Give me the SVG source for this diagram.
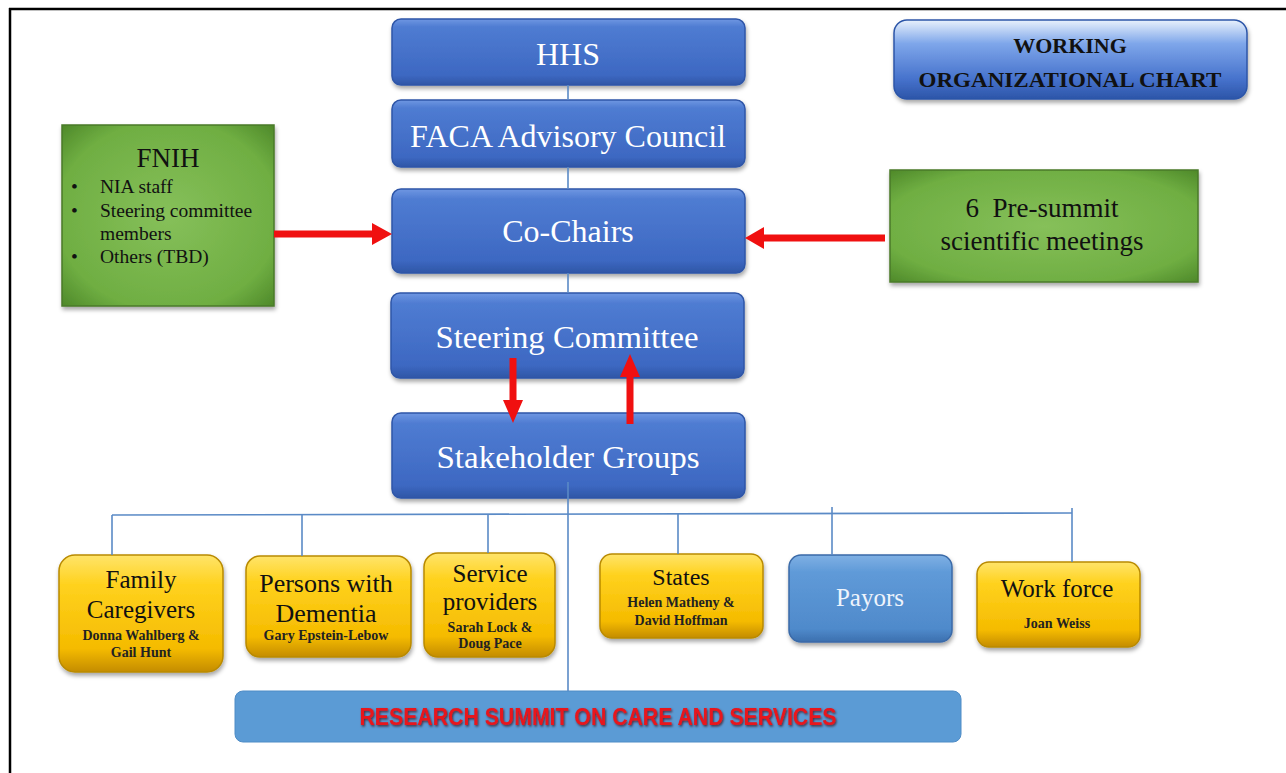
<svg xmlns="http://www.w3.org/2000/svg" width="1286" height="773" viewBox="0 0 1286 773">
<style>
.serif{font-family:"Liberation Serif","Times New Roman",serif;text-anchor:middle}
.wt{fill:#ffffff;font-size:32px}
.bk{fill:#111111}
.nm{fill:#222222;font-size:14px;font-weight:bold}
.bl{fill:url(#gBlue);stroke:#2e56a8;stroke-width:1.5;filter:url(#sh)}
.gr{fill:url(#gGreen);stroke:#4a7a2a;stroke-width:1.5;filter:url(#sh)}
.ye{fill:url(#gYel);stroke:#b98a00;stroke-width:1.5;filter:url(#sh)}
.conn{stroke:#5a8ac6;stroke-width:1.6;fill:none}
.red{fill:#f01010}
</style>
<defs>
<linearGradient id="gBlue" x1="0" y1="0" x2="0" y2="1">
<stop offset="0" stop-color="#6f97e2"/>
<stop offset="0.12" stop-color="#4f7cd2"/>
<stop offset="0.85" stop-color="#3d68c2"/>
<stop offset="1" stop-color="#2f56a6"/>
</linearGradient>
<linearGradient id="gWork" x1="0" y1="0" x2="0" y2="1">
<stop offset="0" stop-color="#e8f1fc"/>
<stop offset="0.3" stop-color="#7ea6ea"/>
<stop offset="0.75" stop-color="#4672cc"/>
<stop offset="1" stop-color="#2c55a8"/>
</linearGradient>
<radialGradient id="gGreen" cx="0.5" cy="0.5" r="0.7">
<stop offset="0" stop-color="#86c05a"/>
<stop offset="0.75" stop-color="#6fae42"/>
<stop offset="1" stop-color="#4f8a2a"/>
</radialGradient>
<linearGradient id="gYel" x1="0" y1="0" x2="0" y2="1">
<stop offset="0" stop-color="#ffe46a"/>
<stop offset="0.25" stop-color="#ffd21e"/>
<stop offset="0.8" stop-color="#f5bb00"/>
<stop offset="1" stop-color="#c48c00"/>
</linearGradient>
<linearGradient id="gPay" x1="0" y1="0" x2="0" y2="1">
<stop offset="0" stop-color="#7fb0e4"/>
<stop offset="0.2" stop-color="#5f9ad8"/>
<stop offset="0.85" stop-color="#4f8acb"/>
<stop offset="1" stop-color="#3b6fae"/>
</linearGradient>
<filter id="sh" x="-10%" y="-10%" width="120%" height="130%">
<feDropShadow dx="1" dy="3" stdDeviation="2" flood-color="#000" flood-opacity="0.35"/>
</filter>
<filter id="tsh" x="-5%" y="-20%" width="110%" height="150%">
<feDropShadow dx="1" dy="1.5" stdDeviation="0.8" flood-color="#400000" flood-opacity="0.7"/>
</filter>
</defs>

<rect x="0" y="0" width="1286" height="773" fill="#ffffff"/>
<g id="frame" stroke="#000" stroke-width="2.5">
<line x1="10" y1="8" x2="10" y2="773"/>
<line x1="9" y1="9" x2="1286" y2="9"/>
</g>

<g id="hhs">
<rect class="bl" x="392" y="19" width="353" height="66" rx="9"/>
<text class="serif wt" x="568" y="65">HHS</text>
</g>
<g id="faca">
<rect class="bl" x="392" y="100" width="353" height="67" rx="9"/>
<text class="serif wt" x="568" y="147">FACA Advisory Council</text>
</g>
<g id="cochairs">
<rect class="bl" x="392" y="189" width="353" height="84" rx="9"/>
<text class="serif wt" x="568" y="242">Co-Chairs</text>
</g>
<g id="steering">
<rect class="bl" x="391" y="293" width="353" height="85" rx="9"/>
<text class="serif wt" x="567" y="348" textLength="263" lengthAdjust="spacingAndGlyphs">Steering Committee</text>
</g>
<g id="stakeholder">
<rect class="bl" x="392" y="413" width="353" height="85" rx="9"/>
<text class="serif wt" x="568" y="468" textLength="263" lengthAdjust="spacingAndGlyphs">Stakeholder Groups</text>
</g>

<g id="working">
<rect x="894" y="20" width="353" height="79" rx="13" fill="url(#gWork)" stroke="#2c55a8" stroke-width="1.5" filter="url(#sh)"/>
<text class="serif bk" x="1070" y="53" font-size="22" font-weight="bold">WORKING</text>
<text class="serif bk" x="1070" y="87" font-size="22" font-weight="bold" textLength="303" lengthAdjust="spacingAndGlyphs">ORGANIZATIONAL CHART</text>
</g>

<g id="fnih">
<rect class="gr" x="62" y="125" width="212" height="181"/>
<text class="serif bk" x="168" y="167" font-size="27">FNIH</text>
<g class="bk" font-family="Liberation Serif, Times New Roman, serif" font-size="19.5">
<text x="71" y="193">•</text>
<text x="100" y="193">NIA staff</text>
<text x="71" y="217">•</text>
<text x="100" y="217">Steering committee</text>
<text x="100" y="240">members</text>
<text x="71" y="263">•</text>
<text x="100" y="263">Others (TBD)</text>
</g>
</g>

<g id="presummit">
<rect class="gr" x="890" y="170" width="308" height="112"/>
<text class="serif bk" x="1042" y="217" font-size="27" xml:space="preserve">6  Pre-summit</text>
<text class="serif bk" x="1042" y="250" font-size="27">scientific meetings</text>
</g>

<g id="family">
<rect class="ye" x="59" y="555" width="164" height="117" rx="16"/>
<text class="serif bk" x="141" y="588" font-size="25">Family</text>
<text class="serif bk" x="141" y="618" font-size="25">Caregivers</text>
<text class="serif nm" x="141" y="640">Donna Wahlberg &amp;</text>
<text class="serif nm" x="141" y="657">Gail Hunt</text>
</g>
<g id="persons">
<rect class="ye" x="246" y="556" width="165" height="101" rx="14"/>
<text class="serif bk" x="326" y="592" font-size="26">Persons with</text>
<text class="serif bk" x="326" y="622" font-size="26">Dementia</text>
<text class="serif nm" x="326" y="640">Gary Epstein-Lebow</text>
</g>
<g id="service">
<rect class="ye" x="424" y="553" width="131" height="104" rx="14"/>
<text class="serif bk" x="490" y="582" font-size="25">Service</text>
<text class="serif bk" x="490" y="610" font-size="25">providers</text>
<text class="serif nm" x="490" y="632">Sarah Lock &amp;</text>
<text class="serif nm" x="490" y="648">Doug Pace</text>
</g>
<g id="states">
<rect class="ye" x="600" y="554" width="163" height="84" rx="12"/>
<text class="serif bk" x="681" y="585" font-size="24">States</text>
<text class="serif nm" x="681" y="607">Helen Matheny &amp;</text>
<text class="serif nm" x="681" y="625">David Hoffman</text>
</g>
<g id="payors">
<rect x="789" y="555" width="163" height="87" rx="12" fill="url(#gPay)" stroke="#3a6aa8" stroke-width="1.5" filter="url(#sh)"/>
<text class="serif" x="870" y="606" font-size="25" fill="#eef4fc">Payors</text>
</g>
<g id="workforce">
<rect class="ye" x="977" y="562" width="163" height="85" rx="12"/>
<text class="serif bk" x="1057" y="597" font-size="25">Work force</text>
<text class="serif nm" x="1057" y="628">Joan Weiss</text>
</g>

<g id="summit">
<rect x="235" y="691" width="726" height="51" rx="8" fill="#5b9bd5" stroke="#4f8cc6" stroke-width="1"/>
<text x="598" y="725" font-family="Liberation Sans, Arial, sans-serif" font-size="23" font-weight="bold" fill="#e8141c" text-anchor="middle" textLength="477" lengthAdjust="spacingAndGlyphs" filter="url(#tsh)">RESEARCH SUMMIT ON CARE AND SERVICES</text>
</g>

<g id="connectors">
<line class="conn" x1="568" y1="85" x2="568" y2="100"/>
<line class="conn" x1="568" y1="167" x2="568" y2="189"/>
<line class="conn" x1="568" y1="273" x2="568" y2="293"/>
<line class="conn" x1="568" y1="482" x2="568" y2="691"/>
<line class="conn" x1="112" y1="515" x2="1072" y2="513"/>
<line class="conn" x1="112" y1="515" x2="112" y2="555"/>
<line class="conn" x1="302" y1="515" x2="302" y2="556"/>
<line class="conn" x1="488" y1="515" x2="488" y2="553"/>
<line class="conn" x1="678" y1="514" x2="678" y2="554"/>
<line class="conn" x1="832" y1="507" x2="832" y2="555"/>
<line class="conn" x1="1072" y1="508" x2="1072" y2="562"/>
<polygon class="red" points="274,230.5 372,230.5 372,223 392,234 372,245 372,237.5 274,237.5"/>
<polygon class="red" points="885,234.5 764,234.5 764,227 745,238 764,249 764,241.5 885,241.5"/>
<polygon class="red" points="509.5,358 516.5,358 516.5,400 523,400 513,423 503,400 509.5,400"/>
<polygon class="red" points="626.5,424 633.5,424 633.5,377 640,377 630,354 620,377 626.5,377"/>
</g>
</svg>
